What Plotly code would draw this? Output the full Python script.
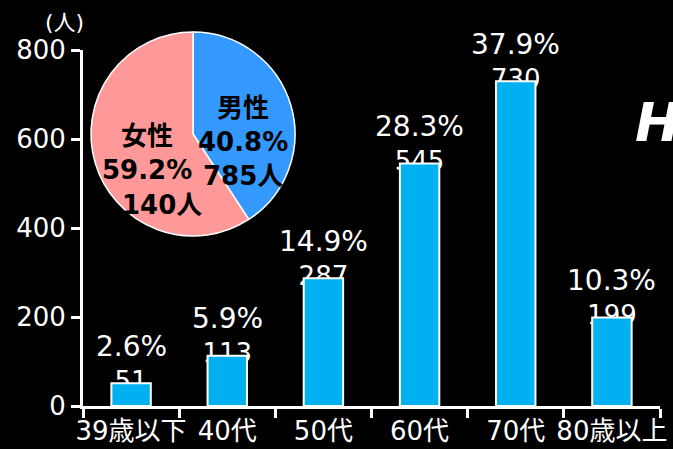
import plotly.graph_objects as go

categories = ["39歳以下", "40代", "50代", "60代", "70代", "80歳以上"]
counts = [51, 113, 287, 545, 730, 199]
pct_labels = ["2.6%", "5.9%", "14.9%", "28.3%", "37.9%", "10.3%"]
y_ticks = [0, 200, 400, 600, 800]

gender_labels = ["男性", "女性"]
gender_pct = [40.8, 59.2]
gender_counts = [785, 140]

W, H = 673, 449
ML, MR, MT, MB = 83, 13, 20, 43
PW = W - ML - MR
PH = H - MT - MB
Y0_PX = H - MB


def px(x):
    return (x - ML) / PW


def py(y):
    return (Y0_PX - y) / PH


FONT = "DejaVu Sans, Noto Sans CJK JP, sans-serif"
BAR_COLOR = "#00B0F0"
MALE_COLOR = "#3399FF"
FEMALE_COLOR = "#FF9999"

fig = go.Figure()

# count labels drawn below the bars (main axes, underneath overlay)
fig.add_trace(go.Scatter(
    x=categories, y=counts, mode="text",
    text=[str(c) for c in counts], textposition="middle center",
    textfont=dict(size=26, color="white", family=FONT),
    xaxis="x", yaxis="y", showlegend=False, hoverinfo="skip", cliponaxis=False,
))

# bars on overlaying axis so they cover the count labels
fig.add_trace(go.Bar(
    x=categories, y=counts, width=0.41,
    marker=dict(color=BAR_COLOR, line=dict(color="white", width=2)),
    xaxis="x", yaxis="y2", showlegend=False, hoverinfo="skip",
))

# pie
fig.add_trace(go.Pie(
    labels=gender_labels, values=gender_pct, sort=False, direction="clockwise",
    rotation=0, textinfo="none", showlegend=False, hoverinfo="skip",
    marker=dict(colors=[MALE_COLOR, FEMALE_COLOR], line=dict(color="white", width=1.5)),
    domain=dict(x=[px(91), px(295)], y=[py(236), py(32)]),
))

y_dom_top = py(50)

fig.update_layout(
    width=W, height=H,
    margin=dict(l=ML, r=MR, t=MT, b=MB, pad=0, autoexpand=False),
    paper_bgcolor="black", plot_bgcolor="black",
    font=dict(family=FONT, color="white", size=26),
    xaxis=dict(
        type="category", categoryorder="array", categoryarray=categories,
        range=[-0.5, 5.5], showgrid=False, zeroline=False, automargin=False,
        showline=True, linecolor="white", linewidth=3, tickangle=0,
        ticks="outside", tickson="boundaries", ticklen=9, tickwidth=3, tickcolor="white",
        tickfont=dict(size=26, color="white", family=FONT),
    ),
    yaxis=dict(
        range=[0, 800], domain=[0, y_dom_top], tickvals=y_ticks,
        showgrid=False, zeroline=False, automargin=False,
        showline=True, linecolor="white", linewidth=3,
        ticks="outside", ticklen=9, tickwidth=3, tickcolor="white",
        tickfont=dict(size=26, color="white", family=FONT),
    ),
    yaxis2=dict(range=[0, 800], overlaying="y", visible=False, showgrid=False),
)

ann = []
# percentage labels above bars
for cat, val, lab in zip(categories, counts, pct_labels):
    ann.append(dict(text=lab, x=cat, y=val, xref="x", yref="y2", yshift=37,
                    xanchor="center", yanchor="middle", showarrow=False,
                    font=dict(size=28, color="white", family=FONT)))
ann.append(dict(text="(人)", x=px(64), y=py(22), xref="paper", yref="paper",
                xanchor="center", yanchor="middle",
                showarrow=False, font=dict(size=22, color="white", family=FONT)))
ann.append(dict(text=f"<b>{gender_labels[0]}<br>{gender_pct[0]}%<br>{gender_counts[0]}人</b>",
                x=px(242.5), y=py(142), xref="paper", yref="paper", showarrow=False,
                xanchor="center", yanchor="middle",
                font=dict(size=26, color="black", family=FONT)))
ann.append(dict(text=f"<b>{gender_labels[1]}<br>{gender_pct[1]}%</b>",
                x=px(147), y=py(153), xref="paper", yref="paper", showarrow=False,
                xanchor="center", yanchor="middle",
                font=dict(size=26, color="black", family=FONT)))
ann.append(dict(text=f"<b>{gender_counts[1]}人</b>",
                x=px(161.5), y=py(205), xref="paper", yref="paper", showarrow=False,
                xanchor="center", yanchor="middle",
                font=dict(size=26, color="black", family=FONT)))
ann.append(dict(text="<b><i>HO</i></b>", x=px(633), y=py(123), xref="paper", yref="paper",
                xanchor="left", yanchor="middle", showarrow=False,
                font=dict(size=54, color="white", family="DejaVu Sans")))
fig.update_layout(annotations=ann)

fig.write_html("out.html")
